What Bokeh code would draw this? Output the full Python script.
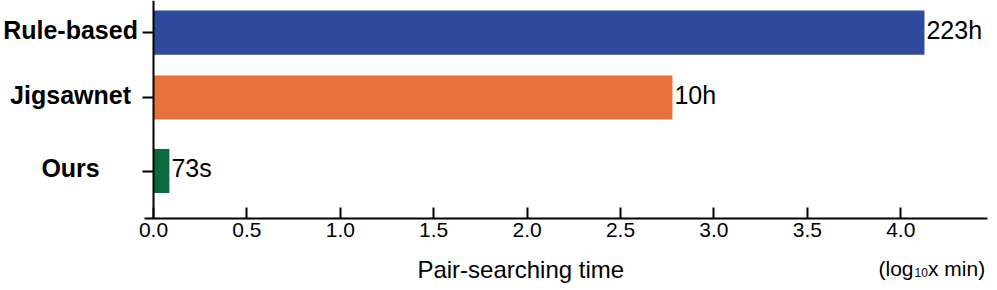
from bokeh.plotting import figure
from bokeh.models import (ColumnDataSource, LabelSet, Label, FixedTicker,
                          Range1d, PrintfTickFormatter)
from bokeh.core.properties import value
from bokeh.embed import file_html
from bokeh.resources import INLINE

# ---- data ----
categories = ["Rule-based", "Jigsawnet", "Ours"]
values = [4.127, 2.778, 0.085]          # log10(minutes)
value_labels = ["223h", "10h", "73s"]
colors = ["#2F4A9C", "#E9713B", "#0A6A3E"]
x_ticks = [0.0, 0.5, 1.0, 1.5, 2.0, 2.5, 3.0, 3.5, 4.0]

# ---- layout (row positions on the y scale) ----
row_pos = [2.163, 1.148, 0.0]
bar_h = 0.69
x_axis_y = -0.742          # where the x axis sits on the y scale
x_bounds = (-0.048, 4.465)

FONT = "Liberation Sans"

p = figure(width=997, height=290, output_backend="svg", toolbar_location=None,
           x_range=Range1d(-0.819, 4.518), y_range=Range1d(-1.867, 2.664),
           min_border=0)
p.outline_line_color = None
p.grid.visible = False
p.background_fill_color = "white"
p.border_fill_color = "white"

src = ColumnDataSource(dict(y=row_pos, right=values, color=colors,
                            text=value_labels, cat=categories,
                            cx=[-0.444] * len(categories)))
p.hbar(y="y", left=0, right="right", height=bar_h, color="color",
       line_color=None, source=src)

# y axis at x = 0
ya = p.yaxis[0]
ya.fixed_location = 0
ya.bounds = (x_axis_y, 2.664)
ya.ticker = FixedTicker(ticks=row_pos)
ya.major_label_overrides = {v: "" for v in row_pos}
ya.axis_line_width = 2
ya.axis_line_color = "black"
ya.major_tick_in = 0
ya.major_tick_out = 11
ya.major_tick_line_width = 2
ya.major_tick_line_color = "black"
ya.minor_tick_line_color = None

# x axis
xa = p.xaxis[0]
xa.fixed_location = x_axis_y
xa.bounds = x_bounds
xa.ticker = FixedTicker(ticks=x_ticks)
xa.formatter = PrintfTickFormatter(format="%.1f")
xa.axis_line_width = 2
xa.axis_line_color = "black"
xa.major_tick_in = 11
xa.major_tick_out = 0
xa.major_tick_line_width = 2
xa.major_tick_line_color = "black"
xa.minor_tick_line_color = None
xa.major_label_text_font = FONT
xa.major_label_text_font_size = "21px"
xa.major_label_text_color = "black"
xa.major_label_standoff = 5

# category labels
p.add_layout(LabelSet(x="cx", y="y", text="cat", source=src,
                      text_align="center", text_baseline="middle",
                      text_font=value(FONT), text_font_style="bold",
                      text_font_size="25px", text_color="black",
                      y_offset=3))
# value labels
p.add_layout(LabelSet(x="right", y="y", text="text", source=src,
                      text_align="left", text_baseline="middle",
                      text_font=value(FONT), text_font_size="25px",
                      text_color="black", x_offset=2, y_offset=3))

# axis title
p.add_layout(Label(x=1.966, y=-1.544, text="Pair-searching time",
                   text_align="center", text_baseline="alphabetic",
                   text_font=FONT, text_font_size="24px",
                   text_color="black"))
# unit note
p.add_layout(Label(x=3.881, y=-1.516, text="(log", text_align="left",
                   text_baseline="alphabetic", text_font=FONT,
                   text_font_size="21px", text_color="black"))
p.add_layout(Label(x=4.074, y=-1.586, text="10", text_align="left",
                   text_baseline="alphabetic", text_font=FONT,
                   text_font_size="12px", text_color="black"))
p.add_layout(Label(x=4.146, y=-1.516, text="x min)", text_align="left",
                   text_baseline="alphabetic", text_font=FONT,
                   text_font_size="21px", text_color="black"))

open("out.html", "w").write(file_html(p, INLINE))
